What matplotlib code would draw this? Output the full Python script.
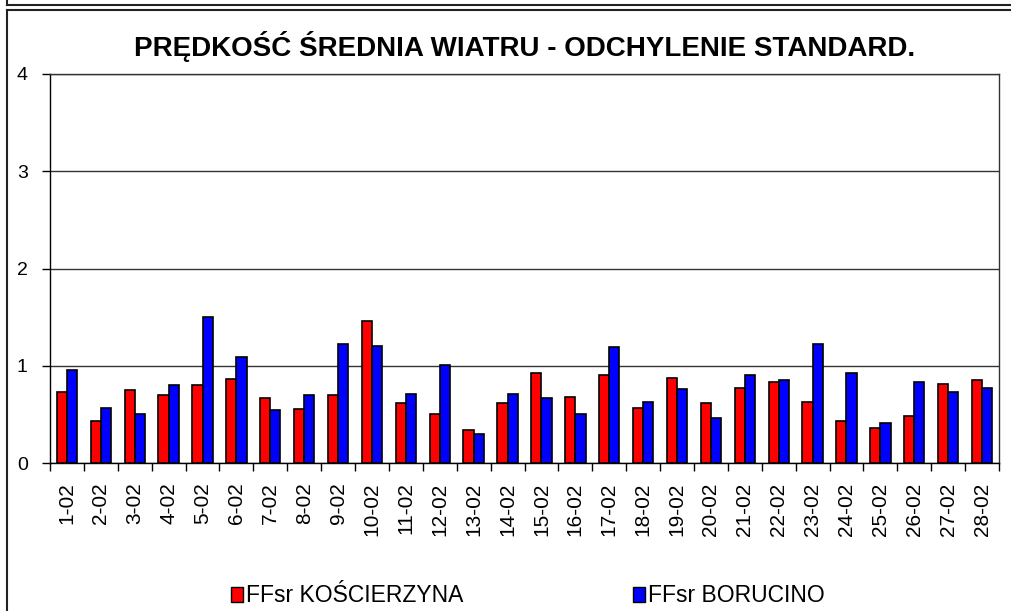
import numpy as np
import matplotlib
matplotlib.use('Agg')
import matplotlib.pyplot as plt
from matplotlib.patches import Patch
from matplotlib.lines import Line2D

plt.rcParams['font.family'] = ['Liberation Sans', 'DejaVu Sans']

days = ['%d-02' % d for d in range(1, 29)]
kościerzyna = [0.73, 0.43, 0.75, 0.70, 0.80, 0.86, 0.67, 0.56, 0.70, 1.46,
               0.615, 0.50, 0.34, 0.615, 0.93, 0.68, 0.90, 0.57, 0.87, 0.615,
               0.77, 0.83, 0.63, 0.43, 0.36, 0.48, 0.81, 0.85]
borucino = [0.96, 0.57, 0.50, 0.80, 1.50, 1.09, 0.54, 0.70, 1.22, 1.20,
            0.71, 1.01, 0.30, 0.71, 0.67, 0.50, 1.19, 0.63, 0.76, 0.46,
            0.91, 0.85, 1.22, 0.93, 0.41, 0.83, 0.73, 0.77]
series_names = ['FFsr KOŚCIERZYNA', 'FFsr BORUCINO']
title = 'PRĘDKOŚĆ ŚREDNIA WIATRU - ODCHYLENIE STANDARD.'

W, H = 1011, 611
fig = plt.figure(figsize=(W / 100, H / 100), dpi=100)
ax = fig.add_axes([50 / W, 1 - 463 / H, 949 / W, 389 / H])

x = np.arange(len(days))
bw = 0.3
ax.bar(x - bw / 2, kościerzyna, bw, color='#ff0000', edgecolor='black', linewidth=1.2, zorder=3)
ax.bar(x + bw / 2, borucino, bw, color='#0000ff', edgecolor='black', linewidth=1.2, zorder=3)

ax.set_xlim(-0.5, len(days) - 0.5)
ax.set_ylim(0, 4)
ax.set_yticks([0, 1, 2, 3, 4])
ax.yaxis.grid(True, color='#333333', linewidth=1, zorder=0)
ax.tick_params(axis='y', direction='out', length=6, width=1, labelsize=14, pad=10)

ax.set_xticks(x)
ax.set_xticklabels(days, rotation=90, fontsize=15)
ax.tick_params(axis='x', which='major', length=0, pad=14)
ax.set_xticks(np.arange(len(days) + 1) - 0.5, minor=True)
ax.tick_params(axis='x', which='minor', direction='out', length=6, width=1)

for s in ax.spines.values():
    s.set_color('#333333')
    s.set_linewidth(1)
ax.spines['left'].set_color('black')
ax.spines['bottom'].set_color('black')

fig.text(525 / W, 1 - 47 / H, title, ha='center', va='center',
         fontsize=20, fontweight='bold')

handles = [Patch(facecolor='#ff0000', edgecolor='black', linewidth=1),
           Patch(facecolor='#0000ff', edgecolor='black', linewidth=1)]
fig.legend(handles, series_names, loc='center', bbox_to_anchor=(528 / W, 1 - 596 / H),
           ncol=2, frameon=False, fontsize=16.5, handlelength=0.5, handleheight=0.6,
           handletextpad=0.15, columnspacing=7.4, borderpad=0)

# chart frame borders
def fline(xs, ys, lw=1.5):
    fig.add_artist(Line2D([v / W for v in xs], [1 - v / H for v in ys],
                          color='#222222', linewidth=lw, transform=fig.transFigure))

fline([7, W], [4.5, 4.5])
fline([7, 7], [0, 4.5])
fline([7, W], [9.5, 9.5])
fline([7, 7], [9.5, H])

fig.savefig('out.png', dpi=100)
